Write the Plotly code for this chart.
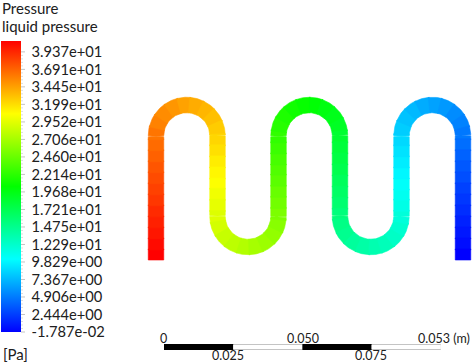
import math
import plotly.graph_objects as go
from plotly.colors import sample_colorscale

# --- data -------------------------------------------------------------
tick_values = [39.37, 36.91, 34.45, 31.99, 29.52, 27.06, 24.60, 22.14, 19.68,
               17.21, 14.75, 12.29, 9.829, 7.367, 4.906, 2.444, -0.01787]
tick_labels = ["3.937e+01", "3.691e+01", "3.445e+01", "3.199e+01", "2.952e+01",
               "2.706e+01", "2.460e+01", "2.214e+01", "1.968e+01", "1.721e+01",
               "1.475e+01", "1.229e+01", "9.829e+00", "7.367e+00", "4.906e+00",
               "2.444e+00", "-1.787e-02"]
# pressure of each contour band along the channel, inlet to outlet
band_pressure = [40.9, 40.5, 40.0, 39.6, 39.2, 38.7, 38.3, 37.9, 37.5, 37.0,
                 36.6, 36.2, 35.7, 35.3, 34.9, 34.4, 34.0, 33.6, 33.2, 32.7,
                 32.3, 31.9, 31.4, 31.0, 30.6, 30.1, 29.7, 29.3, 28.9, 28.4,
                 28.0, 27.6, 27.1, 26.7, 26.3, 25.9, 25.4, 25.0, 24.6, 24.1,
                 23.7, 23.3, 22.8, 22.4, 22.0, 21.6, 21.1, 20.7, 20.3, 19.8,
                 19.4, 19.0, 18.5, 18.1, 17.7, 17.3, 16.8, 16.4, 16.0, 15.5,
                 15.1, 14.7, 14.2, 13.8, 13.4, 13.0, 12.5, 12.1, 11.7, 11.2,
                 10.8, 10.4, 9.9, 9.5, 9.1, 8.7, 8.2, 7.8, 7.4, 6.9,
                 6.5, 6.1, 5.6, 5.2, 4.8, 4.4, 3.9, 3.5, 3.1, 2.6,
                 2.2, 1.8, 1.3, 0.9, 0.5, 0.0]
# channel geometry, metres
leg_x = [-0.00289, 0.01933, 0.04137, 0.06358, 0.08580, 0.10802]
upper_crown_y = 0.0560
lower_crown_y = 0.0047
channel_width = 0.0056
# scale bar, metres
scale_edges = [0, 0.025, 0.05, 0.075, 0.1]
scale_labels = ["0", "0.025", "0.050", "0.075", "0.053 (m)"]
scale_fills = ["black", "white", "black", "white"]

P_MIN, P_MAX = -0.01787, 40.9
SCALE = [[0, "#0000ff"], [0.25, "#00ffff"], [0.5, "#00ff00"], [0.75, "#ffff00"], [1, "#ff0000"]]

W, H = 472, 363
PX = 2768.0           # pixels per metre
X0, Y0 = 164.0, 260.0  # pixel position of the metre origin
xr = [-X0 / PX, (W - X0) / PX]
yr = [-(H - Y0) / PX, Y0 / PX]
BAR_TOP, BAR_LEN = 41, 291


def centreline():
    """Dense (x, y, nx, ny) samples along the serpentine, by path order."""
    pts = []

    def line(x, y1, y2):
        n = max(2, int(abs(y2 - y1) * PX))
        for i in range(n):
            y = y1 + (y2 - y1) * i / n
            pts.append((x, y, 1.0 if y2 > y1 else -1.0, 0.0))

    def arc(cx, cy, x_a, up):
        n = 120
        rr = (x_a[1] - x_a[0]) / 2
        for i in range(n):
            t = math.pi * i / n
            a = math.pi - t if up else math.pi + t
            nx, ny = math.cos(a), math.sin(a)
            pts.append((cx + rr * nx, cy + rr * ny, (nx if up else -nx), (ny if up else -ny)))

    top = upper_crown_y
    bot = lower_crown_y
    y = 0.0
    for i in range(5):
        a, b = leg_x[i], leg_x[i + 1]
        rr = (b - a) / 2
        up = i % 2 == 0
        if up:
            line(a, y, top - rr)
            arc((a + b) / 2, top - rr, (a, b), True)
            y = top - rr
        else:
            line(a, y, bot + rr)
            arc((a + b) / 2, bot + rr, (a, b), False)
            y = bot + rr
    line(leg_x[5], y, 0.0)
    pts.append((leg_x[5], 0.0, -1.0, 0.0))
    return pts


pts = centreline()
seg = [0.0]
for p, q in zip(pts, pts[1:]):
    seg.append(seg[-1] + math.hypot(q[0] - p[0], q[1] - p[1]))
total = seg[-1]
nb = len(band_pressure)
hw = channel_width / 2

fig = go.Figure()
cx, cy = [], []
j = 0
for k, value in enumerate(band_pressure):
    s1 = total * (k + 1) / nb
    start = max(j - 1, 0)
    while j < len(pts) - 1 and seg[j] < s1:
        j += 1
    chunk = pts[start:j + 1]
    outer = [(p[0] + hw * p[2], p[1] + hw * p[3]) for p in chunk]
    inner = [(p[0] - hw * p[2], p[1] - hw * p[3]) for p in chunk]
    ring = outer + inner[::-1] + outer[:1]
    t = (value - P_MIN) / (P_MAX - P_MIN)
    col = sample_colorscale(SCALE, [max(0, min(1, t))])[0]
    fig.add_trace(go.Scatter(x=[a for a, _ in ring], y=[b for _, b in ring], mode="lines",
                             fill="toself", fillcolor=col, line=dict(color=col, width=0.6),
                             hoverinfo="skip", showlegend=False))
    mid = chunk[len(chunk) // 2]
    cx.append(mid[0])
    cy.append(mid[1])

# carries the colour bar; its own ticks are transparent and only set the label gap
fig.add_trace(go.Scatter(
    x=cx, y=cy, mode="markers", showlegend=False,
    marker=dict(size=1, opacity=0, color=band_pressure, cmin=P_MIN, cmax=P_MAX, colorscale=SCALE,
                colorbar=dict(
                    x=1 / W, xanchor="left", xpad=0, ypad=0,
                    y=1 - BAR_TOP / H, yanchor="top",
                    lenmode="pixels", len=BAR_LEN, thicknessmode="pixels", thickness=20,
                    outlinewidth=0, borderwidth=0,
                    tickmode="array", tickvals=tick_values, ticktext=tick_labels,
                    ticks="outside", ticklen=8, tickcolor="rgba(0,0,0,0)", tickwidth=1,
                    tickfont=dict(family="Lato", size=14.7, color="#202020")))))


def bar_paper_y(v):
    return 1 - (BAR_TOP + BAR_LEN * (1 - (v - P_MIN) / (P_MAX - P_MIN))) / H


# short major and faint minor ticks beside the colour bar
shapes = []
for hi, lo in zip(tick_values, tick_values[1:]):
    y = bar_paper_y(hi)
    shapes.append(dict(type="line", xref="paper", yref="paper", x0=21 / W, x1=25 / W, y0=y, y1=y,
                       line=dict(color="#c4c4c4", width=1)))
    for m in range(1, 5):
        v = hi + (lo - hi) * m / 5
        y = bar_paper_y(v)
        shapes.append(dict(type="line", xref="paper", yref="paper", x0=21 / W, x1=23 / W, y0=y, y1=y,
                           line=dict(color="#dddddd", width=1)))
y = bar_paper_y(tick_values[-1])
shapes.append(dict(type="line", xref="paper", yref="paper", x0=21 / W, x1=25 / W, y0=y, y1=y,
                   line=dict(color="#c4c4c4", width=1)))

# scale bar
bar_y = -(347 - Y0) / PX
fig.add_trace(go.Scatter(x=[scale_edges[0], scale_edges[-1]], y=[bar_y, bar_y], mode="lines",
                         line=dict(color="#c4c4c4", width=6), showlegend=False, hoverinfo="skip"))
for a, b, c in zip(scale_edges, scale_edges[1:], scale_fills):
    fig.add_trace(go.Scatter(x=[a, b], y=[bar_y, bar_y], mode="lines",
                             line=dict(color=c, width=6 if c == "black" else 4),
                             showlegend=False, hoverinfo="skip"))
font = dict(family="Lato", size=15, color="#202020")
num_font = dict(family="Lato", size=12.5, color="#202020")
upper_y = -(338 - Y0) / PX
lower_y = -(355.2 - Y0) / PX
label_shift = [-1, -5, 1, -1, 0]
for i, (e, lab) in enumerate(zip(scale_edges, scale_labels)):
    if i == 4:
        fig.add_annotation(x=e + 30 / PX, y=upper_y, text=lab, showarrow=False, font=num_font,
                           xanchor="right", yanchor="middle", xshift=label_shift[i], borderpad=0)
    else:
        fig.add_annotation(x=e, y=upper_y if i % 2 == 0 else lower_y, text=lab, showarrow=False,
                           font=num_font, xanchor="center", yanchor="middle",
                           xshift=label_shift[i], borderpad=0)

for txt, px_y, px_x in [("Pressure", 7.5, 1), ("liquid pressure", 25.6, 1), ("[Pa]", 353.5, 2)]:
    fig.add_annotation(xref="paper", yref="paper", x=px_x / W, y=1 - px_y / H, text=txt,
                       showarrow=False, font=font, xanchor="left", yanchor="middle", borderpad=0)

fig.update_layout(width=W, height=H, autosize=False, paper_bgcolor="white", plot_bgcolor="white",
                  margin=dict(l=0, r=0, t=0, b=0, pad=0, autoexpand=False), shapes=shapes,
                  xaxis=dict(range=xr, visible=False, fixedrange=True, domain=[0, 1]),
                  yaxis=dict(range=yr, visible=False, fixedrange=True, domain=[0, 1]))
fig.write_html("out.html", config=dict(displayModeBar=False),
               post_script="document.documentElement.style.margin='0';document.body.style.margin='0';document.body.style.overflow='hidden';window.dispatchEvent(new Event('resize'));")
